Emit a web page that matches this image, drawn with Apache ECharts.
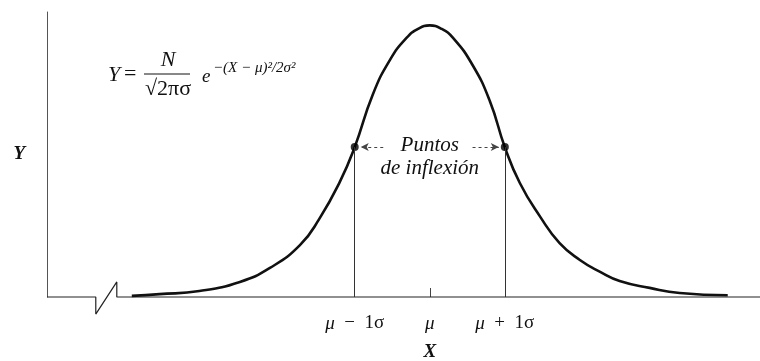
<!DOCTYPE html>
<html>
<head>
<meta charset="utf-8">
<script src="https://cdn.jsdelivr.net/npm/echarts@6/dist/echarts.min.js"></script>
<style>
  html, body { margin: 0; padding: 0; background: #fff; }
  #chart { width: 760px; height: 361px; }
</style>
</head>
<body>
<div id="chart"></div>
<script>
// Normal curve, X measured in units of sigma from the mean (mu = 0)
const curveX = [-3.97, -3.6, -3.07, -2.53, -2.13, -1.73, -1.47, -1.2, -1.0, -0.76, -0.53, -0.31, -0.15, 0,
                0.15, 0.31, 0.57, 0.8, 1.0, 1.2, 1.47, 1.73, 2.0, 2.27, 2.53, 2.93, 3.33, 3.97];
const curveY = [0.4, 1.0, 2.1, 5.3, 10.2, 18.2, 27.5, 40.3, 52.6, 71.0, 83.2, 90.9, 94.2, 95.3,
                94.2, 90.9, 81.4, 68.8, 52.6, 40.0, 28.2, 18.9, 13.0, 8.8, 5.6, 3.2, 1.4, 0.6];

// Inflection points at mu - 1 sigma and mu + 1 sigma
const inflectionX = [-1, 1];
const inflectionY = [52.6, 52.6];

// Tick labels along X (rich text: italic mu)
const tickValues = [-1, 0, 1];
const tickLabels = ['{i|μ}  −  1σ', '{i|μ}', '{i|μ}  +  1σ'];

const annotationTop = 'Puntos';
const annotationBottom = 'de inflexión';

const X_MIN = -5.1, X_MAX = 4.4, Y_MIN = 0, Y_MAX = 100;
const SERIF = '"Liberation Serif", "DejaVu Serif", serif';
const INK = '#111';

const chart = echarts.init(document.getElementById('chart'), null, { renderer: 'canvas' });

const curveData = curveX.map((x, i) => [x, curveY[i]]);
const pointData = inflectionX.map((x, i) => [x, inflectionY[i]]);

// Baseline with the small zig-zag break near the left end
const breakStart = -4.45, breakEnd = -4.17;
const baseline = [[X_MIN, 0], [breakStart, 0], [breakStart, -6], [breakEnd, 5.3], [breakEnd, 0], [X_MAX, 0]];

// Dashed arrows from the annotation toward each inflection point
const arrowOffsetNear = 0.08, arrowOffsetFar = 0.38;
const arrowLines = pointData.map(([x, y]) => {
  const dir = Math.sign(x);
  return [
    { coord: [x - dir * arrowOffsetFar - (dir > 0 ? 0.05 : 0), y] },
    { coord: [x - dir * arrowOffsetNear, y] }
  ];
});

const labelStyle = { fontFamily: SERIF, fontSize: 19, color: INK };

const option = {
  animation: false,
  backgroundColor: '#fff',
  grid: { left: 47, right: 0, top: 12, bottom: 64 },
  xAxis: {
    type: 'value',
    min: X_MIN,
    max: X_MAX,
    axisLine: { show: false },
    splitLine: { show: false },
    axisTick: {
      show: true,
      inside: true,
      length: 9,
      customValues: [0],
      lineStyle: { color: '#444', width: 1 }
    },
    axisLabel: {
      show: true,
      customValues: tickValues,
      margin: 17,
      color: INK,
      fontFamily: SERIF,
      fontSize: 19,
      rich: { i: Object.assign({ fontStyle: 'italic' }, labelStyle) },
      formatter: (v) => {
        const i = tickValues.indexOf(Math.round(v * 100) / 100);
        return i >= 0 ? tickLabels[i] : '';
      }
    }
  },
  yAxis: {
    type: 'value',
    min: Y_MIN,
    max: Y_MAX,
    name: 'Y',
    nameLocation: 'middle',
    nameRotate: 0,
    nameGap: 22,
    nameTextStyle: { fontFamily: SERIF, fontStyle: 'italic', fontWeight: 'bold', fontSize: 19, color: INK },
    axisLine: { show: true, onZero: false, lineStyle: { color: '#555', width: 1 } },
    axisTick: { show: false },
    axisLabel: { show: false },
    splitLine: { show: false }
  },
  series: [
    {
      name: 'baseline',
      type: 'line',
      data: baseline,
      clip: false,
      symbol: 'none',
      silent: true,
      lineStyle: { color: '#222', width: 1.2 },
      z: 1
    },
    {
      name: 'curve',
      type: 'line',
      data: curveData,
      smooth: 0.5,
      symbol: 'none',
      lineStyle: { color: INK, width: 2.6 },
      z: 3
    },
    {
      name: 'inflection',
      type: 'scatter',
      data: pointData,
      symbol: 'circle',
      symbolSize: 8,
      itemStyle: { color: '#000' },
      z: 4,
      markLine: {
        silent: true,
        symbol: ['none', 'none'],
        label: { show: false },
        lineStyle: { color: '#333', width: 1, type: 'solid' },
        data: pointData.map(([x, y]) => [{ coord: [x, 0] }, { coord: [x, y] }])
      },
      markPoint: {
        silent: true,
        symbol: 'circle',
        symbolSize: 0,
        label: {
          show: true,
          position: 'inside',
          color: INK,
          fontFamily: SERIF,
          fontStyle: 'italic',
          fontSize: 21
        },
        data: [
          { coord: [0, 53.3], value: annotationTop, label: { formatter: annotationTop } },
          { coord: [0, 45.0], value: annotationBottom, label: { formatter: annotationBottom } }
        ]
      }
    },
    {
      name: 'arrows',
      type: 'line',
      data: [],
      markLine: {
        silent: true,
        symbol: ['none', 'arrow'],
        symbolSize: [6, 8],
        label: { show: false },
        lineStyle: { color: '#444', width: 1, type: [3, 3] },
        data: arrowLines
      }
    }
  ]
};

chart.setOption(option);

// Formula for the curve, written in the upper-left of the plot
const fx = 108, fy = 75;
chart.setOption({
  graphic: [
    {
      type: 'group',
      left: fx,
      top: fy - 26,
      children: [
        { type: 'text', x: 14, y: 26, style: { text: 'Y', font: 'italic 22px ' + SERIF, fill: INK, verticalAlign: 'middle' } },
        { type: 'text', x: 30, y: 25, style: { text: '=', font: '22px ' + SERIF, fill: INK, verticalAlign: 'middle' } },
        { type: 'text', x: 74, y: 11, style: { text: 'N', font: 'italic 22px ' + SERIF, fill: INK, align: 'center', verticalAlign: 'middle' } },
        { type: 'line', shape: { x1: 50, y1: 25, x2: 96, y2: 25 }, style: { stroke: INK, lineWidth: 1 } },
        { type: 'text', x: 74, y: 40, style: { text: '√2πσ', font: '22px ' + SERIF, fill: INK, align: 'center', verticalAlign: 'middle' } },
        { type: 'text', x: 108, y: 28, style: { text: 'e', font: 'italic 19px ' + SERIF, fill: INK, verticalAlign: 'middle' } },
        { type: 'text', x: 119, y: 19, style: { text: '−(X − μ)²/2σ²', font: 'italic 15px ' + SERIF, fill: INK, verticalAlign: 'middle' } }
      ]
    },
    {
      type: 'text',
      x: chart.convertToPixel({ xAxisIndex: 0 }, 0),
      y: 352,
      style: { text: 'X', font: 'italic bold 19px ' + SERIF, fill: INK, align: 'center', verticalAlign: 'middle' }
    }
  ]
});
</script>
</body>
</html>
